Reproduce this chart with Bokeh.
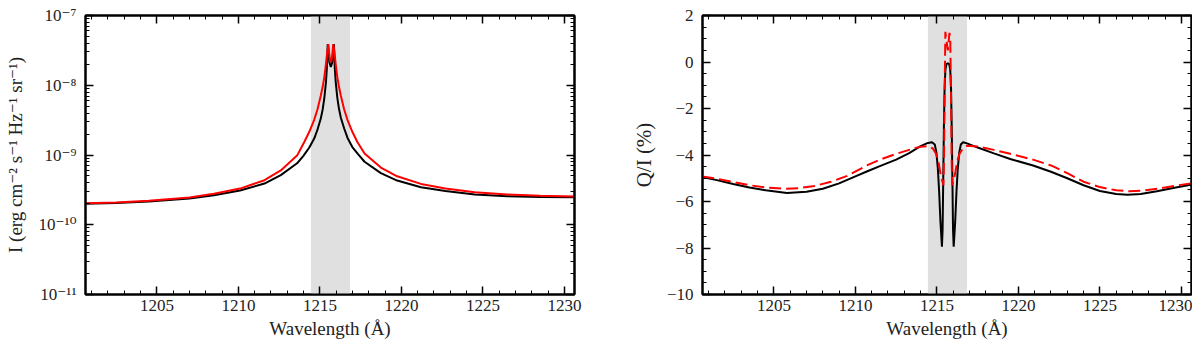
from bokeh.plotting import figure
from bokeh.layouts import row
from bokeh.models import (Range1d, FixedTicker, CustomJSTickFormatter, LinearAxis,
                          LogAxis, BoxAnnotation)
from bokeh.embed import file_html
from bokeh.resources import INLINE
import numpy as np

# ---------------- data ----------------
band = [1214.45, 1216.85]          # shaded line-core region (Å)
x_range = [1200.62, 1230.62]

x_ticks = [1205, 1210, 1215, 1220, 1225, 1230]
x_tick_labels = ["1205", "1210", "1215", "1220", "1225", "1230"]

I_ticks = [1e-11, 1e-10, 1e-9, 1e-8, 1e-7]
I_tick_labels = ["10⁻¹¹", "10⁻¹⁰", "10⁻⁹", "10⁻⁸", "10⁻⁷"]

Q_ticks = [-10, -8, -6, -4, -2, 0, 2]
Q_tick_labels = ["−10", "−8", "−6", "−4", "−2", "0", "2"]

# Intensity, black (solid)
wl_I_black = [1200.6, 1202.5, 1204.5, 1207.0, 1208.5, 1210.1, 1211.6, 1212.6, 1213.6, 1214.0,
              1214.35, 1214.65, 1214.85, 1215.05, 1215.17, 1215.27, 1215.37, 1215.43, 1215.48,
              1215.53, 1215.59, 1215.67, 1215.75, 1215.81, 1215.86, 1215.91, 1215.97, 1216.07,
              1216.17, 1216.29, 1216.49, 1216.69, 1216.99, 1217.34, 1217.74, 1218.74, 1219.74,
              1221.2, 1222.7, 1224.5, 1226.5, 1228.5, 1230.65]
I_black = [2.0e-10, 2.05e-10, 2.15e-10, 2.38e-10, 2.64e-10, 3.1e-10, 3.9e-10, 5.15e-10, 7.6e-10, 9.8e-10,
           1.28e-9, 1.72e-9, 2.3e-9, 3.3e-9, 4.5e-9, 6.5e-9, 1.1e-8, 1.8e-8, 3.9e-8,
           3.0e-8, 2.1e-8, 1.83e-8, 2.1e-8, 3.0e-8, 3.9e-8, 1.85e-8, 1.12e-8, 6.6e-9,
           4.6e-9, 3.4e-9, 2.4e-9, 1.77e-9, 1.3e-9, 1.03e-9, 8.0e-10, 5.5e-10, 4.3e-10,
           3.45e-10, 3.05e-10, 2.72e-10, 2.56e-10, 2.5e-10, 2.48e-10]

# Intensity, red (solid)
wl_I_red = [1200.6, 1202.5, 1204.5, 1207.0, 1208.5, 1210.1, 1211.6, 1212.6, 1213.6, 1214.05,
            1214.35, 1214.65, 1214.85, 1215.05, 1215.17, 1215.27, 1215.37, 1215.45, 1215.52,
            1215.57, 1215.62, 1215.67, 1215.72, 1215.77, 1215.82, 1215.89, 1215.97, 1216.07,
            1216.17, 1216.29, 1216.49, 1216.69, 1216.99, 1217.29, 1217.74, 1218.74, 1219.74,
            1221.2, 1222.7, 1224.5, 1226.5, 1228.5, 1230.65]
I_red = [2.04e-10, 2.09e-10, 2.21e-10, 2.46e-10, 2.78e-10, 3.3e-10, 4.35e-10, 6.0e-10, 9.8e-10, 1.55e-9,
         2.15e-9, 3.2e-9, 4.5e-9, 7.0e-9, 9.5e-9, 1.3e-8, 2.0e-8, 3.0e-8, 3.9e-8,
         2.9e-8, 2.28e-8, 2.15e-8, 2.28e-8, 2.9e-8, 3.9e-8, 3.0e-8, 2.0e-8, 1.3e-8,
         9.5e-9, 7.0e-9, 4.5e-9, 3.2e-9, 2.15e-9, 1.55e-9, 1.05e-9, 6.6e-10, 4.95e-10,
         3.85e-10, 3.3e-10, 2.93e-10, 2.72e-10, 2.6e-10, 2.55e-10]

# Q/I (%), black (solid)
wl_Q_black = [1200.6, 1201.5, 1202.5, 1203.5, 1204.5, 1205.8, 1207.0, 1208.0, 1209.0, 1210.0,
              1210.7, 1211.5, 1212.5, 1213.3, 1214.0, 1214.45, 1214.7, 1214.87, 1214.97, 1215.06,
              1215.14, 1215.22, 1215.31, 1215.35, 1215.39, 1215.43, 1215.47, 1215.52, 1215.58,
              1215.67, 1215.76, 1215.82, 1215.87, 1215.91, 1215.95, 1215.99, 1216.03, 1216.12,
              1216.2, 1216.28, 1216.37, 1216.47, 1216.6, 1216.85, 1217.5, 1218.5, 1219.5,
              1220.9, 1222.0, 1223.0, 1224.0, 1225.0, 1226.0, 1226.7, 1227.5, 1228.5, 1229.5,
              1230.65]
Q_black = [-4.95, -5.08, -5.25, -5.40, -5.52, -5.63, -5.58, -5.45, -5.22, -4.92,
           -4.71, -4.48, -4.20, -3.92, -3.62, -3.48, -3.45, -3.55, -3.90, -4.60,
           -5.60, -6.90, -7.94, -7.20, -5.00, -2.80, -1.20, -0.35, -0.10,
           -0.05, -0.10, -0.35, -1.20, -2.80, -5.00, -7.20, -7.94, -6.90,
           -5.60, -4.60, -3.90, -3.55, -3.45, -3.50, -3.68, -3.93, -4.17,
           -4.45, -4.72, -5.00, -5.30, -5.55, -5.68, -5.71, -5.68, -5.56, -5.42,
           -5.27]

# Q/I (%), red (dashed)
wl_Q_red = [1200.6, 1201.5, 1202.5, 1203.5, 1204.5, 1205.6, 1206.5, 1207.5, 1208.5, 1209.5,
            1210.7, 1211.5, 1212.5, 1213.3, 1214.0, 1214.5, 1214.75, 1214.95, 1215.1, 1215.22,
            1215.32, 1215.40, 1215.44, 1215.48, 1215.52, 1215.57, 1215.67, 1215.77, 1215.82,
            1215.86, 1215.90, 1215.94, 1216.02, 1216.12, 1216.24, 1216.39, 1216.59, 1216.85,
            1217.5, 1218.5, 1219.5, 1220.9, 1222.0, 1223.0, 1224.0, 1225.0, 1226.0, 1226.8,
            1227.8, 1228.8, 1229.8, 1230.65]
Q_red = [-4.92, -5.02, -5.16, -5.30, -5.40, -5.45, -5.43, -5.33, -5.15, -4.90,
         -4.45, -4.20, -3.95, -3.78, -3.64, -3.62, -3.72, -3.95, -4.30, -4.80,
         -5.10, -5.30, -4.00, -1.00, 1.30, 1.00, 0.50, 1.25, 1.00,
         -1.00, -4.00, -5.30, -5.10, -4.80, -4.30, -3.95, -3.72, -3.60,
         -3.63, -3.78, -3.95, -4.20, -4.45, -4.78, -5.15, -5.38, -5.52, -5.56,
         -5.52, -5.42, -5.30, -5.22]

# ---------------- styling helpers ----------------
FONT = "'Liberation Serif', 'DejaVu Serif', serif"
TICK_FS = "17px"
LABEL_FS = "19px"
TEXT_COLOR = "#222222"

LIN_FMT = """
let best = -1, bd = 1e9;
for (let i = 0; i < tv.length; i++) {
  const d = Math.abs(tick - tv[i]);
  if (d < bd) { bd = d; best = i; }
}
return bd < 1e-6 ? tl[best] : "";
"""
LOG_FMT = """
let best = -1, bd = 1e9;
for (let i = 0; i < tv.length; i++) {
  const d = Math.abs(Math.log10(tick) - Math.log10(tv[i]));
  if (d < bd) { bd = d; best = i; }
}
return bd < 1e-3 ? tl[best] : "";
"""
EMPTY_FMT = "return '';"


def style_axis(ax, ticks, minor, fmt_code=None, labels=None):
    ax.ticker = FixedTicker(ticks=ticks, minor_ticks=minor)
    if fmt_code is None:
        ax.formatter = CustomJSTickFormatter(code=EMPTY_FMT)
        ax.major_label_standoff = 0
    else:
        ax.formatter = CustomJSTickFormatter(args=dict(tv=ticks, tl=labels), code=fmt_code)
    ax.major_tick_in = 8
    ax.major_tick_out = 0
    ax.minor_tick_in = 4
    ax.minor_tick_out = 0
    ax.axis_line_width = 2
    ax.axis_line_color = "black"
    ax.major_tick_line_width = 1.5
    ax.minor_tick_line_width = 1
    ax.major_tick_line_color = "black"
    ax.minor_tick_line_color = "black"
    ax.major_label_text_font = FONT
    ax.major_label_text_font_size = TICK_FS
    ax.major_label_text_color = TEXT_COLOR
    ax.axis_label_text_font = FONT
    ax.axis_label_text_font_size = LABEL_FS
    ax.axis_label_text_font_style = "normal"
    ax.axis_label_text_color = TEXT_COLOR


x_minor = list(np.arange(1201, 1231, 1.0))
I_minor = [m * 10.0 ** e for e in range(-11, -7) for m in range(2, 10)]
Q_minor = list(np.arange(-10, 2.01, 0.5))


def make_fig(width, left_border, right_border, y_log):
    kw = dict(width=width, height=341, output_backend="svg", toolbar_location=None,
              min_border_left=left_border, min_border_right=right_border,
              min_border_top=15, min_border_bottom=46,
              x_range=Range1d(*x_range))
    if y_log:
        p = figure(y_axis_type="log", y_range=Range1d(1e-11, 1e-7), **kw)
    else:
        p = figure(y_range=Range1d(-10, 2), **kw)
    p.grid.visible = False
    p.outline_line_color = "black"
    p.outline_line_width = 2
    p.background_fill_color = "white"
    p.border_fill_color = "white"
    p.add_layout(BoxAnnotation(left=band[0], right=band[1], fill_color="#e0e0e0",
                               fill_alpha=1.0, line_alpha=0, level="underlay"))
    return p


# ---------- left panel: intensity ----------
p1 = make_fig(608, 85, 34, True)
p1.line(wl_I_black, I_black, line_color="black", line_width=2)
p1.line(wl_I_red, I_red, line_color="#ff0000", line_width=2)
style_axis(p1.xaxis[0], x_ticks, x_minor, LIN_FMT, x_tick_labels)
style_axis(p1.yaxis[0], I_ticks, I_minor, LOG_FMT, I_tick_labels)
p1.xaxis[0].axis_label = "Wavelength (Å)"
p1.xaxis[0].major_label_standoff = 5
p1.xaxis[0].axis_label_standoff = 4
p1.yaxis[0].axis_label = "I (erg cm⁻² s⁻¹ Hz⁻¹ sr⁻¹)"
p1.yaxis[0].major_label_standoff = 9
p1.yaxis[0].axis_label_standoff = 10
top1 = LinearAxis()
style_axis(top1, x_ticks, x_minor)
p1.add_layout(top1, "above")
right1 = LogAxis()
style_axis(right1, I_ticks, I_minor)
p1.add_layout(right1, "right")

# ---------- right panel: Q/I ----------
p2 = make_fig(584, 94, 1, False)
p2.line(wl_Q_black, Q_black, line_color="black", line_width=2)
p2.line(wl_Q_red, Q_red, line_color="#ff0000", line_width=2, line_dash="12 5")
style_axis(p2.xaxis[0], x_ticks, x_minor, LIN_FMT, x_tick_labels)
style_axis(p2.yaxis[0], Q_ticks, Q_minor, LIN_FMT, Q_tick_labels)
p2.xaxis[0].axis_label = "Wavelength (Å)"
p2.xaxis[0].major_label_standoff = 5
p2.xaxis[0].axis_label_standoff = 4
p2.yaxis[0].axis_label = "Q/I (%)"
p2.yaxis[0].axis_label_text_font_size = "21px"
p2.yaxis[0].major_label_standoff = 9
p2.yaxis[0].axis_label_standoff = 8
top2 = LinearAxis()
style_axis(top2, x_ticks, x_minor)
p2.add_layout(top2, "above")
right2 = LinearAxis()
style_axis(right2, Q_ticks, Q_minor)
p2.add_layout(right2, "right")

layout = row(p1, p2)
open("out.html", "w").write(file_html(layout, INLINE))
